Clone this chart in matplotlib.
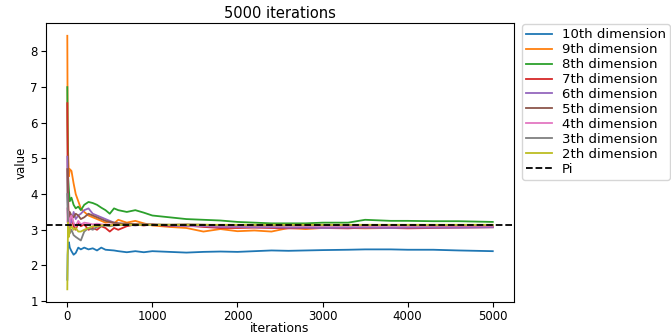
import matplotlib
matplotlib.use("Agg")
import matplotlib.pyplot as plt
import numpy as np

iters = [1, 5, 10, 20, 30, 50, 75, 100, 130, 160, 200, 250, 300, 350, 400, 450, 500, 550, 600,
         700, 800, 900, 1000, 1200, 1400, 1600, 1800, 2000, 2200, 2400, 2600, 2800, 3000,
         3300, 3500, 3800, 4000, 4300, 4600, 5000]

dim10 = [1.60, 2.30, 2.55, 2.65, 2.50, 2.40, 2.30, 2.35, 2.50, 2.45, 2.50, 2.45, 2.48, 2.42, 2.50, 2.44, 2.43, 2.42, 2.40,
         2.37, 2.40, 2.37, 2.40, 2.38, 2.36, 2.38, 2.39, 2.38, 2.40, 2.42, 2.41, 2.42, 2.43,
         2.44, 2.45, 2.45, 2.44, 2.44, 2.42, 2.40]
dim9 = [8.44, 6.00, 5.20, 4.50, 4.70, 4.65, 4.30, 4.00, 3.80, 3.60, 3.50, 3.40, 3.35, 3.30, 3.25, 3.20, 3.22, 3.18, 3.28,
        3.20, 3.25, 3.18, 3.12, 3.08, 3.05, 2.95, 3.02, 2.96, 2.98, 2.95, 3.05, 3.02, 3.05,
        3.05, 3.04, 3.05, 3.06, 3.08, 3.08, 3.10]
dim8 = [7.00, 5.50, 4.50, 4.10, 3.80, 3.90, 3.70, 3.60, 3.65, 3.55, 3.70, 3.78, 3.75, 3.70, 3.62, 3.55, 3.45, 3.60, 3.55,
        3.50, 3.55, 3.48, 3.40, 3.35, 3.30, 3.28, 3.26, 3.22, 3.20, 3.18, 3.18, 3.18, 3.20,
        3.20, 3.28, 3.25, 3.25, 3.24, 3.24, 3.22]
dim7 = [6.55, 4.80, 3.90, 3.20, 3.00, 3.40, 3.10, 3.00, 3.20, 3.10, 3.15, 3.00, 3.05, 3.00, 3.10, 3.05, 2.95, 3.05, 3.00,
        3.10, 3.15, 3.12, 3.15, 3.10, 3.12, 3.08, 3.05, 3.05, 3.06, 3.05, 3.04, 3.05, 3.05,
        3.04, 3.06, 3.05, 3.04, 3.05, 3.06, 3.07]
dim6 = [5.05, 3.80, 3.40, 3.00, 3.30, 3.20, 3.50, 3.30, 3.40, 3.45, 3.55, 3.60, 3.45, 3.40, 3.35, 3.30, 3.25, 3.20, 3.18,
        3.15, 3.12, 3.15, 3.14, 3.12, 3.10, 3.10, 3.08, 3.08, 3.07, 3.07, 3.06, 3.06, 3.05,
        3.06, 3.06, 3.05, 3.06, 3.06, 3.06, 3.07]
dim5 = [4.70, 4.00, 3.60, 3.30, 3.50, 3.40, 3.35, 3.45, 3.40, 3.30, 3.35, 3.45, 3.40, 3.35, 3.30, 3.25, 3.22, 3.20, 3.18,
        3.17, 3.16, 3.15, 3.15, 3.14, 3.15, 3.14, 3.13, 3.13, 3.12, 3.12, 3.12, 3.12, 3.12,
        3.12, 3.12, 3.12, 3.12, 3.12, 3.12, 3.12]
dim4 = [3.60, 3.20, 3.50, 3.00, 3.30, 3.40, 3.20, 3.10, 3.25, 3.15, 3.20, 3.18, 3.15, 3.17, 3.15, 3.14, 3.15, 3.14, 3.14,
        3.13, 3.14, 3.13, 3.13, 3.13, 3.12, 3.12, 3.12, 3.12, 3.12, 3.12, 3.12, 3.11, 3.11,
        3.11, 3.11, 3.11, 3.11, 3.11, 3.11, 3.11]
dim3 = [4.00, 3.50, 3.20, 3.00, 2.90, 3.00, 2.85, 2.80, 2.75, 2.70, 2.95, 3.05, 3.00, 3.08, 3.10, 3.12, 3.10, 3.12, 3.13,
        3.14, 3.14, 3.14, 3.14, 3.14, 3.14, 3.14, 3.13, 3.13, 3.13, 3.13, 3.13, 3.13, 3.13,
        3.13, 3.13, 3.13, 3.13, 3.13, 3.13, 3.13]
dim2 = [1.33, 2.20, 3.20, 2.80, 3.00, 3.10, 3.00, 3.05, 2.95, 2.95, 3.00, 3.05, 3.10, 3.10, 3.12, 3.13, 3.12, 3.14, 3.14,
        3.14, 3.14, 3.14, 3.14, 3.14, 3.14, 3.14, 3.14, 3.14, 3.14, 3.14, 3.14, 3.14, 3.14,
        3.14, 3.14, 3.14, 3.14, 3.14, 3.14, 3.14]

series = [
    ("10th dimension", dim10),
    ("9th dimension", dim9),
    ("8th dimension", dim8),
    ("7th dimension", dim7),
    ("6th dimension", dim6),
    ("5th dimension", dim5),
    ("4th dimension", dim4),
    ("3th dimension", dim3),
    ("2th dimension", dim2),
]
pi_value = 3.14159

fig = plt.figure(figsize=(6.71, 3.34), dpi=100)
ax = fig.add_axes([0.0686, 0.0958, 0.6975, 0.835])
for label, vals in series:
    ax.plot(iters, vals, label=label, linewidth=1.3)
ax.axhline(pi_value, color="black", linestyle="--", label="Pi", linewidth=1.3)

ax.set_title("5000 iterations", fontsize=10.5, pad=4)
ax.set_xlabel("iterations", fontsize=9)
ax.xaxis.set_label_coords(0.5, -0.095)
ax.xaxis.label.set_va("center")
ax.set_ylabel("value", fontsize=8.5, labelpad=2)
ax.tick_params(labelsize=8.5, pad=2.5)
ax.legend(loc="upper left", bbox_to_anchor=(1.017, 0.996), fontsize=9.5, borderaxespad=0,
          labelspacing=0.15, borderpad=0.3, handletextpad=0.7)

fig.savefig("out.png", dpi=100)
